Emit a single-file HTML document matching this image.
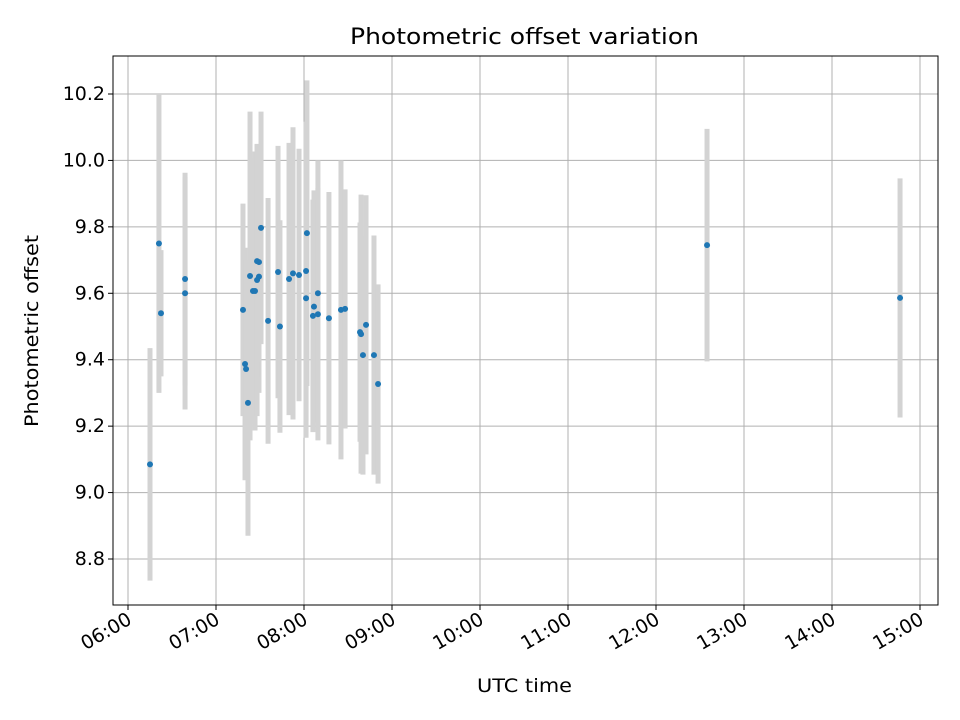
<!DOCTYPE html>
<html><head><meta charset="utf-8"><style>body{margin:0;background:#fff}svg{display:block;font-family:"DejaVu Sans","Liberation Sans",sans-serif}</style></head>
<body>
<svg id="chart" width="960" height="720" viewBox="0 0 960 720"></svg>
<script>
// times in minutes since midnight UTC
const times = [375,381.1,382.5,398.9,398.9,438.4,439.8,440.5,441.8,443.2,445.2,446.6,448,449.3,448,449.3,450.7,455.5,462.3,463.6,469.8,472.5,476.6,481.4,481.4,482,486.8,486.1,489.5,489.5,497,505.2,508,518.2,518.9,522.3,520.2,527.7,530.5,754.8,886.4];
const offsets = [9.085,9.75,9.54,9.643,9.60,9.55,9.387,9.372,9.27,9.652,9.607,9.607,9.64,9.65,9.697,9.694,9.797,9.517,9.664,9.50,9.643,9.66,9.655,9.667,9.585,9.781,9.56,9.532,9.537,9.60,9.525,9.55,9.553,9.483,9.477,9.505,9.414,9.414,9.327,9.745,9.586];
const errors = [0.35,0.45,0.19,0.32,0.35,0.32,0.35,0.33,0.40,0.495,0.40,0.42,0.41,0.35,0.35,0.30,0.35,0.37,0.38,0.32,0.41,0.44,0.38,0.45,0.42,0.46,0.35,0.35,0.38,0.40,0.38,0.45,0.36,0.33,0.42,0.39,0.36,0.36,0.30,0.35,0.36];
const yTicks = [8.8,9.0,9.2,9.4,9.6,9.8,10.0,10.2];
const xTickHours = [6,7,8,9,10,11,12,13,14,15];

const svg = document.getElementById('chart');
const NS = 'http://www.w3.org/2000/svg';
const L=113,R=938,T=56,B=605;
const xs = m => 128 + (m-360)/60*88;
const ys = v => 559 - (v-8.8)/1.4*465;
function mk(tag, attrs, parent){const e=document.createElementNS(NS,tag);for(const k in attrs)e.setAttribute(k,attrs[k]);(parent||svg).appendChild(e);return e;}

const grid = mk('g',{});


xTickHours.forEach(h=>{const x=xs(h*60);mk('line',{x1:x,x2:x,y1:T,y2:B,stroke:'#b0b0b0','stroke-width':1},grid);});
yTicks.forEach(v=>{const y=ys(v);mk('line',{x1:L,x2:R,y1:y,y2:y,stroke:'#b0b0b0','stroke-width':1},grid);});

const bars = mk('g',{});


times.forEach((t,i)=>{const x=xs(t);const b=mk('line',{x1:x,x2:x,y1:ys(offsets[i]+errors[i]),y2:ys(offsets[i]-errors[i]),stroke:'#d3d3d3','stroke-width':5},bars);

});
const pts = mk('g',{});


times.forEach((t,i)=>{const c=mk('circle',{cx:xs(t),cy:ys(offsets[i]),r:3,fill:'#1f77b4'},pts);

});

const frame = mk('rect',{x:L,y:T,width:R-L,height:B-T,fill:'none',stroke:'#000','stroke-width':1});



const yax = mk('g',{});


yTicks.forEach(v=>{const y=ys(v);mk('line',{x1:L-5,x2:L,y1:y,y2:y,stroke:'#000'},yax);
const tx=mk('text',{x:L-8,y:y+6,'text-anchor':'end','font-size':19},yax);tx.textContent=v.toFixed(1);

});
const xax = mk('g',{});


xTickHours.forEach(h=>{const x=xs(h*60);mk('line',{x1:x,x2:x,y1:B,y2:B+5,stroke:'#000'},xax);
const tx=mk('text',{x:x+5,y:B+18,'text-anchor':'end','font-size':19,transform:`rotate(-30 ${x+5} ${B+18})`},xax);
tx.textContent=String(h).padStart(2,'0')+':00';

});
</script>
<svg style="position:absolute;left:0;top:0" width="960" height="720">
<text x="350" y="44" textLength="349" lengthAdjust="spacingAndGlyphs" font-size="22" font-family="DejaVu Sans, Liberation Sans, sans-serif">Photometric offset variation</text>
<text x="477" y="692" textLength="95" lengthAdjust="spacingAndGlyphs" font-size="19" font-family="DejaVu Sans, Liberation Sans, sans-serif">UTC time</text>
<text x="0" y="0" textLength="192" lengthAdjust="spacingAndGlyphs" font-size="19" transform="translate(38 427) rotate(-90)" font-family="DejaVu Sans, Liberation Sans, sans-serif">Photometric offset</text>
</svg>
</body></html>
